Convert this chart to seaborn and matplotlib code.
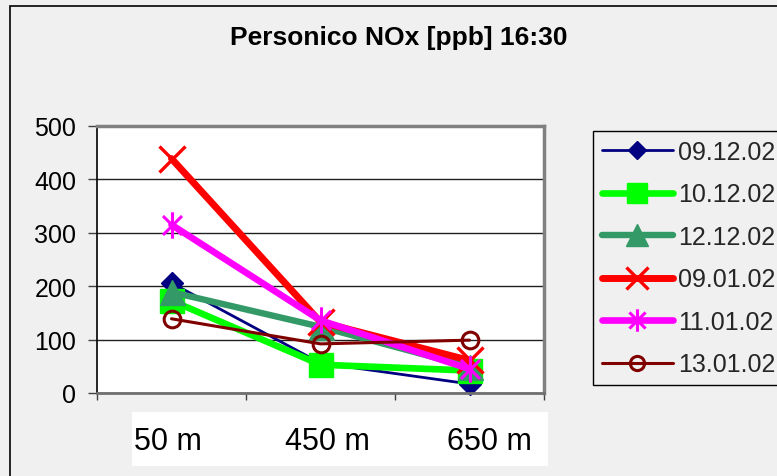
import matplotlib
matplotlib.use("Agg")
import matplotlib.pyplot as plt
import seaborn as sns
import pandas as pd
import numpy as np
from matplotlib.path import Path
from matplotlib.patches import Rectangle
from matplotlib.transforms import ScaledTranslation

# ---------------- data ----------------
categories = ["50 m", "450 m", "650 m"]
series_labels = ["09.12.02", "10.12.02", "12.12.02", "09.01.02", "11.01.02", "13.01.02"]
s_0912 = [206, 56, 17]
s_1012 = [173, 53, 42]
s_1212 = [189, 124, 49]
s_0901 = [439, 133, 61]
s_1101 = [315, 136, 45]
s_1301 = [139, 92, 99]
series_values = [s_0912, s_1012, s_1212, s_0901, s_1101, s_1301]
y_ticks = [0, 100, 200, 300, 400, 500]
title = "Personico NOx [ppb] 16:30"

# ---------------- styles ----------------
asterisk = Path(
    [(0, -1), (0, 1), (-0.72, -0.72), (0.72, 0.72), (-0.72, 0.72), (0.72, -0.72)],
    [Path.MOVETO, Path.LINETO, Path.MOVETO, Path.LINETO, Path.MOVETO, Path.LINETO],
)
styles = [
    dict(color="#000080", lw=2.0, marker="D", ms=11, mfc="#000080", mew=1),
    dict(color="#00ff00", lw=4.8, marker="s", ms=17, mfc="#00ff00", mew=1),
    dict(color="#339966", lw=4.6, marker="^", ms=18, mfc="#339966", mew=1),
    dict(color="#ff0000", lw=5.0, marker="x", ms=19, mfc="#ff0000", mew=2.4),
    dict(color="#ff00ff", lw=4.8, marker=asterisk, ms=19, mfc="#ff00ff", mew=2.2),
    dict(color="#800000", lw=2.2, marker="o", ms=12, mfc="none", mew=2.2),
]

sns.set_theme(style="white")
plt.rcParams["font.family"] = ["Liberation Sans", "DejaVu Sans"]

W, H = 777, 477
fig = plt.figure(figsize=(W / 100, H / 100), dpi=100)
fig.patch.set_facecolor("#f0f0f0")

# outer chart border
fig.patches.append(Rectangle((10 / W, -0.2), 1.5, 1 - 7 / H + 0.2, transform=fig.transFigure,
                             fill=False, edgecolor="black", linewidth=1.2, zorder=-2))
# white band behind category labels
fig.patches.append(Rectangle((132 / W, 1 - 467 / H), 416 / W, 54 / H, transform=fig.transFigure,
                             facecolor="white", edgecolor="none", zorder=-1))

ax = fig.add_axes([97 / W, (H - 394) / H, 447 / W, 267 / H])
ax.set_facecolor("white")

x_pos = np.arange(len(categories))
for lab, vals, st in zip(series_labels, series_values, styles):
    df = pd.DataFrame({"x": x_pos, "y": vals})
    sns.lineplot(data=df, x="x", y="y", ax=ax, color=st["color"], linewidth=st["lw"],
                 marker=st["marker"], markersize=st["ms"], markerfacecolor=st["mfc"],
                 markeredgecolor=st["color"], markeredgewidth=st["mew"], label=lab,
                 clip_on=False, solid_joinstyle="round", solid_capstyle="round")

ax.set_xlim(-0.5, len(categories) - 0.5)
ax.set_ylim(0, 500)
ax.set_yticks(y_ticks)
ax.set_yticklabels([str(v) for v in y_ticks])
ax.set_xticks(x_pos)
ax.set_xticklabels(categories)
ax.set_xticks(np.arange(-0.5, len(categories), 1.0), minor=True)
ax.set_xlabel("")
ax.set_ylabel("")

ax.yaxis.grid(True, color="#202020", linewidth=1.0)
ax.xaxis.grid(False)
ax.set_axisbelow(True)

ax.tick_params(axis="y", which="major", left=True, length=6.5, width=1.0, color="#404040",
               pad=8.5, labelsize=18, labelcolor="black")
ax.tick_params(axis="x", which="major", bottom=False, length=0, pad=24, labelsize=22,
               labelcolor="black")
ax.tick_params(axis="x", which="minor", bottom=True, length=5, width=1.0, color="#404040")

for side in ["top", "right"]:
    ax.spines[side].set_color("#808080")
    ax.spines[side].set_linewidth(2.5)
ax.spines["bottom"].set_color("#707070")
ax.spines["bottom"].set_linewidth(2.0)
ax.spines["left"].set_color("black")
ax.spines["left"].set_linewidth(1.2)

# shift category labels as in the reference layout
offsets_px = [-4, 7, 20]
for lbl, dx in zip(ax.get_xticklabels(), offsets_px):
    lbl.set_transform(lbl.get_transform() + ScaledTranslation(dx / 100, 0, fig.dpi_scale_trans))

fig.text(399 / W, 1 - 45 / H, title, ha="center", va="baseline", fontsize=19,
         fontweight="bold", color="black")

leg = ax.legend(loc="upper left", bbox_to_anchor=(593 / W, 1 - 132 / H),
                bbox_transform=fig.transFigure, borderaxespad=0, fontsize=18,
                frameon=True, fancybox=False, framealpha=1, edgecolor="black",
                facecolor="#f0f0f0", handlelength=2.85, handletextpad=0.2,
                labelspacing=0.74, borderpad=0.35, markerscale=0.85)
leg.get_frame().set_linewidth(1.0)

fig.savefig("out.png", dpi=100, facecolor=fig.get_facecolor())
